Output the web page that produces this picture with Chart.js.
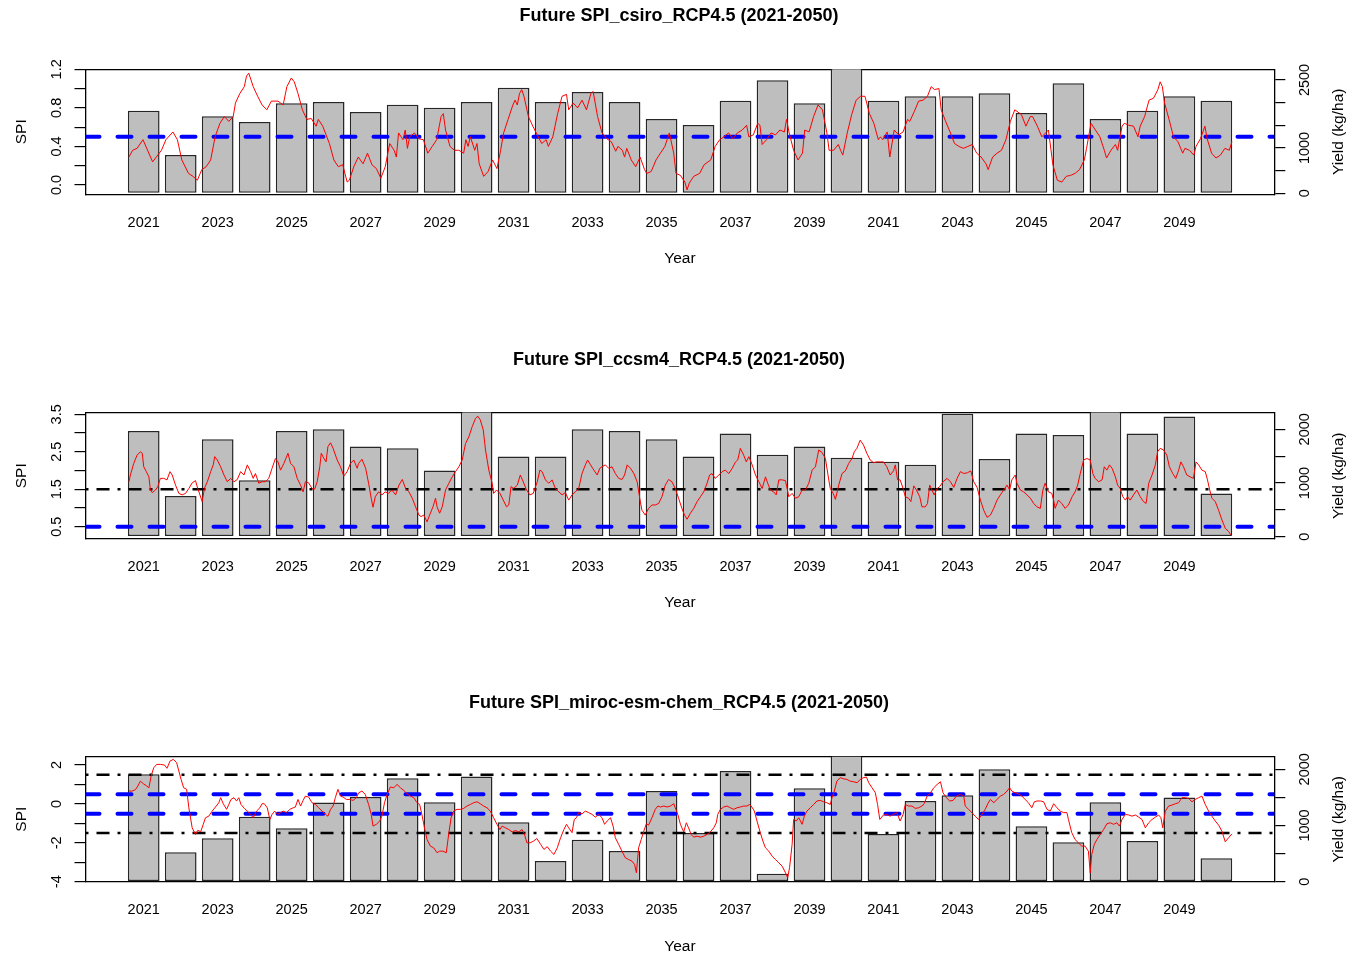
<!DOCTYPE html>
<html>
<head>
<meta charset="utf-8">
<script src="https://cdn.jsdelivr.net/npm/chart.js@4/dist/chart.umd.min.js"></script>
<style>
  html, body { margin: 0; padding: 0; background: #fff; width: 1350px; height: 957px; overflow: hidden; }
  .panel { position: absolute; left: 0; width: 1350px; height: 275px; }
</style>
</head>
<body>
<div class="panel" style="top:0px"><canvas id="csiro" width="1350" height="275"></canvas></div>
<div class="panel" style="top:343px"><canvas id="ccsm4" width="1350" height="275"></canvas></div>
<div class="panel" style="top:687px"><canvas id="miroc" width="1350" height="275"></canvas></div>
<script>
// ---- data ---------------------------------------------------------------
const years = [2021, 2022, 2023, 2024, 2025, 2026, 2027, 2028, 2029, 2030,
               2031, 2032, 2033, 2034, 2035, 2036, 2037, 2038, 2039, 2040,
               2041, 2042, 2043, 2044, 2045, 2046, 2047, 2048, 2049, 2050];
const xTickYears = [2021, 2023, 2025, 2027, 2029, 2031, 2033, 2035, 2037, 2039, 2041, 2043, 2045, 2047, 2049];
const xTickLabels = ['2021', '2023', '2025', '2027', '2029', '2031', '2033', '2035', '2037', '2039', '2041', '2043', '2045', '2047', '2049'];

// yield per year (kg/ha)
const csiroYield = [1824, 846, 1699, 1574, 1985, 2015, 1794, 1956, 1890, 2015,
                    2331, 2015, 2235, 2015, 1640, 1507, 2044, 2493, 1985, 2850,
                    2044, 2140, 2140, 2206, 1772, 2426, 1640, 1824, 2140, 2044];
const ccsmYield = [1969, 757, 1815, 1052, 1969, 2000, 1680, 1649, 1231, 2450,
                   1495, 1495, 2000, 1969, 1815, 1495, 1920, 1526, 1680, 1471,
                   1397, 1342, 2290, 1446, 1920, 1895, 2450, 1920, 2240, 806];
const mirocYield = [1911, 522, 772, 1157, 950, 1407, 1507, 1840, 1413, 1870,
                    1056, 368, 748, 546, 1614, 867, 1970, 142, 1662, 2350,
                    849, 1436, 1537, 2000, 985, 700, 1413, 724, 1496, 415];

// SPI series: [decimal year, SPI]
const csiroSpi = [[2021.10,0.29],[2021.20,0.36],[2021.32,0.38],[2021.48,0.47],[2021.74,0.24],[2021.98,0.36],[2022.10,0.47],[2022.29,0.55],[2022.41,0.47],[2022.53,0.26],[2022.71,0.12],[2022.83,0.09],[2022.95,0.05],[2023.07,0.16],[2023.19,0.19],[2023.31,0.26],[2023.43,0.50],[2023.56,0.64],[2023.68,0.71],[2023.80,0.66],[2023.92,0.71],[2023.98,0.85],[2024.10,0.95],[2024.22,1.02],[2024.28,1.13],[2024.34,1.16],[2024.46,1.02],[2024.58,0.92],[2024.70,0.83],[2024.83,0.78],[2024.95,0.87],[2025.13,0.87],[2025.27,0.83],[2025.37,1.02],[2025.49,1.11],[2025.57,1.07],[2025.67,0.95],[2025.79,0.78],[2025.91,0.68],[2026.03,0.69],[2026.16,0.61],[2026.22,0.68],[2026.34,0.61],[2026.52,0.43],[2026.64,0.26],[2026.76,0.19],[2026.88,0.21],[2027.00,0.03],[2027.06,0.05],[2027.18,0.19],[2027.30,0.29],[2027.43,0.22],[2027.55,0.33],[2027.67,0.21],[2027.79,0.17],[2027.91,0.07],[2028.03,0.19],[2028.15,0.43],[2028.27,0.36],[2028.33,0.29],[2028.39,0.54],[2028.51,0.47],[2028.57,0.57],[2028.63,0.38],[2028.69,0.50],[2028.82,0.54],[2028.94,0.48],[2029.06,0.47],[2029.18,0.33],[2029.30,0.40],[2029.42,0.47],[2029.54,0.71],[2029.60,0.74],[2029.66,0.57],[2029.78,0.40],[2029.90,0.36],[2030.02,0.36],[2030.15,0.33],[2030.21,0.47],[2030.27,0.40],[2030.33,0.50],[2030.45,0.36],[2030.51,0.43],[2030.57,0.22],[2030.69,0.09],[2030.81,0.14],[2030.93,0.26],[2031.05,0.17],[2031.15,0.36],[2031.23,0.54],[2031.35,0.68],[2031.48,0.83],[2031.54,0.88],[2031.60,0.83],[2031.66,0.95],[2031.72,0.99],[2031.78,0.92],[2031.90,0.71],[2032.02,0.61],[2032.14,0.52],[2032.26,0.43],[2032.38,0.47],[2032.44,0.40],[2032.56,0.50],[2032.69,0.74],[2032.81,0.92],[2032.93,0.94],[2032.99,0.78],[2033.11,0.85],[2033.23,0.80],[2033.35,0.88],[2033.47,0.78],[2033.59,0.95],[2033.65,0.97],[2033.77,0.71],[2033.89,0.54],[2034.02,0.48],[2034.14,0.45],[2034.26,0.35],[2034.32,0.40],[2034.44,0.36],[2034.50,0.29],[2034.56,0.38],[2034.68,0.26],[2034.80,0.19],[2034.92,0.29],[2035.04,0.16],[2035.10,0.12],[2035.22,0.14],[2035.35,0.26],[2035.47,0.33],[2035.59,0.40],[2035.71,0.54],[2035.83,0.33],[2035.89,0.12],[2036.01,0.10],[2036.13,0.03],[2036.19,-0.05],[2036.25,0.02],[2036.37,0.09],[2036.53,0.12],[2036.65,0.21],[2036.83,0.26],[2036.95,0.40],[2037.07,0.47],[2037.19,0.50],[2037.31,0.54],[2037.43,0.48],[2037.55,0.54],[2037.68,0.57],[2037.80,0.62],[2037.86,0.50],[2037.98,0.52],[2038.10,0.64],[2038.16,0.62],[2038.22,0.42],[2038.34,0.47],[2038.46,0.54],[2038.58,0.52],[2038.70,0.57],[2038.82,0.55],[2038.88,0.68],[2038.95,0.54],[2039.07,0.36],[2039.19,0.26],[2039.31,0.33],[2039.37,0.57],[2039.49,0.55],[2039.61,0.71],[2039.73,0.83],[2039.85,0.78],[2039.97,0.54],[2040.03,0.36],[2040.15,0.36],[2040.28,0.42],[2040.34,0.36],[2040.40,0.31],[2040.52,0.54],[2040.64,0.73],[2040.76,0.88],[2040.88,0.92],[2041.00,0.92],[2041.12,0.74],[2041.24,0.64],[2041.36,0.47],[2041.42,0.50],[2041.48,0.47],[2041.60,0.55],[2041.67,0.29],[2041.79,0.57],[2041.91,0.52],[2042.03,0.55],[2042.15,0.68],[2042.21,0.66],[2042.33,0.76],[2042.45,0.87],[2042.57,0.88],[2042.69,0.92],[2042.79,1.02],[2042.88,0.99],[2043.00,1.00],[2043.06,0.78],[2043.18,0.66],[2043.30,0.55],[2043.42,0.43],[2043.54,0.40],[2043.66,0.38],[2043.78,0.40],[2043.90,0.42],[2044.02,0.33],[2044.14,0.29],[2044.27,0.22],[2044.33,0.16],[2044.45,0.29],[2044.57,0.33],[2044.69,0.36],[2044.81,0.47],[2044.93,0.66],[2045.05,0.78],[2045.23,0.73],[2045.35,0.61],[2045.47,0.71],[2045.53,0.71],[2045.66,0.61],[2045.78,0.50],[2045.96,0.57],[2046.08,0.21],[2046.20,0.05],[2046.32,0.03],[2046.44,0.09],[2046.56,0.10],[2046.68,0.12],[2046.80,0.16],[2046.93,0.26],[2046.99,0.38],[2047.11,0.64],[2047.23,0.57],[2047.35,0.50],[2047.47,0.36],[2047.53,0.28],[2047.65,0.36],[2047.77,0.42],[2047.83,0.36],[2047.95,0.61],[2048.01,0.64],[2048.13,0.62],[2048.26,0.61],[2048.38,0.50],[2048.44,0.61],[2048.56,0.71],[2048.68,0.88],[2048.80,0.90],[2048.92,0.99],[2048.98,1.07],[2049.04,1.02],[2049.10,0.85],[2049.22,0.68],[2049.34,0.50],[2049.46,0.45],[2049.59,0.33],[2049.65,0.38],[2049.77,0.36],[2049.89,0.31],[2049.95,0.40],[2050.07,0.48],[2050.19,0.61],[2050.25,0.48],[2050.37,0.33],[2050.49,0.28],[2050.61,0.31],[2050.73,0.38],[2050.85,0.36],[2050.92,0.45]];

const ccsmSpi = [[2021.10,1.70],[2021.14,1.88],[2021.23,2.19],[2021.32,2.41],[2021.41,2.50],[2021.46,2.46],[2021.50,2.10],[2021.57,1.97],[2021.64,1.83],[2021.68,1.48],[2021.73,1.41],[2021.82,1.48],[2021.88,1.57],[2021.95,1.79],[2022.04,1.79],[2022.13,1.75],[2022.21,1.97],[2022.27,1.88],[2022.36,1.61],[2022.45,1.39],[2022.54,1.35],[2022.63,1.39],[2022.72,1.52],[2022.81,1.67],[2022.90,1.73],[2022.96,1.52],[2023.02,1.35],[2023.08,1.17],[2023.14,1.52],[2023.22,1.70],[2023.31,1.97],[2023.38,2.15],[2023.42,2.37],[2023.49,2.28],[2023.58,2.10],[2023.67,1.88],[2023.76,1.70],[2023.85,1.79],[2023.94,1.70],[2024.03,1.76],[2024.12,1.97],[2024.21,1.88],[2024.30,2.15],[2024.39,1.97],[2024.46,1.79],[2024.52,1.92],[2024.61,1.66],[2024.70,1.70],[2024.79,1.70],[2024.88,1.79],[2024.97,2.06],[2025.06,2.32],[2025.13,2.23],[2025.20,2.01],[2025.29,2.19],[2025.40,2.46],[2025.47,2.19],[2025.56,2.10],[2025.65,1.79],[2025.74,1.61],[2025.81,1.43],[2025.87,1.70],[2025.96,1.67],[2026.05,1.52],[2026.12,1.50],[2026.19,1.70],[2026.26,2.10],[2026.30,2.46],[2026.37,2.32],[2026.43,2.23],[2026.48,2.64],[2026.55,2.74],[2026.62,2.59],[2026.73,2.28],[2026.82,2.10],[2026.91,1.85],[2027.00,1.97],[2027.09,2.19],[2027.18,2.28],[2027.27,2.06],[2027.31,2.19],[2027.40,2.30],[2027.50,2.06],[2027.58,1.66],[2027.65,1.26],[2027.70,1.02],[2027.76,1.30],[2027.85,1.43],[2027.94,1.35],[2028.03,1.43],[2028.12,1.39],[2028.21,1.48],[2028.31,1.35],[2028.40,1.61],[2028.49,1.76],[2028.58,1.52],[2028.67,1.43],[2028.76,1.26],[2028.85,1.03],[2028.94,0.81],[2029.00,0.77],[2029.07,0.81],[2029.16,0.63],[2029.23,0.81],[2029.32,1.03],[2029.39,1.26],[2029.43,1.03],[2029.50,0.86],[2029.57,1.03],[2029.66,1.48],[2029.75,1.66],[2029.84,1.83],[2029.93,1.97],[2030.02,2.10],[2030.11,2.28],[2030.20,2.72],[2030.29,2.90],[2030.38,3.17],[2030.47,3.39],[2030.53,3.45],[2030.60,3.35],[2030.68,3.08],[2030.74,2.55],[2030.83,2.01],[2030.92,1.66],[2030.96,1.39],[2031.04,1.48],[2031.13,1.39],[2031.22,1.21],[2031.31,1.03],[2031.37,1.08],[2031.43,1.57],[2031.50,1.52],[2031.60,1.61],[2031.68,1.88],[2031.76,1.70],[2031.85,1.48],[2031.94,1.35],[2032.03,1.39],[2032.14,1.70],[2032.21,2.01],[2032.27,1.97],[2032.36,1.75],[2032.45,1.66],[2032.54,1.75],[2032.63,1.52],[2032.72,1.43],[2032.81,1.35],[2032.90,1.41],[2032.99,1.21],[2033.08,1.35],[2033.17,1.43],[2033.26,1.52],[2033.35,1.92],[2033.44,2.15],[2033.50,2.28],[2033.58,2.15],[2033.67,2.01],[2033.76,1.88],[2033.83,2.06],[2033.89,2.10],[2033.98,2.15],[2034.07,2.06],[2034.16,2.10],[2034.25,1.92],[2034.34,1.79],[2034.43,1.76],[2034.50,1.88],[2034.57,2.15],[2034.66,2.06],[2034.75,1.92],[2034.84,1.70],[2034.91,1.26],[2034.97,0.94],[2035.06,0.81],[2035.15,0.99],[2035.24,1.08],[2035.33,1.08],[2035.42,1.12],[2035.51,1.30],[2035.60,1.61],[2035.69,1.76],[2035.78,1.70],[2035.87,1.52],[2035.96,1.26],[2036.05,0.99],[2036.12,0.81],[2036.19,0.70],[2036.28,0.86],[2036.37,0.99],[2036.46,1.17],[2036.55,1.30],[2036.64,1.43],[2036.73,1.66],[2036.80,1.88],[2036.86,1.92],[2036.95,1.79],[2037.05,1.88],[2037.14,1.97],[2037.22,2.01],[2037.32,1.92],[2037.41,2.06],[2037.50,2.23],[2037.56,2.28],[2037.63,2.59],[2037.72,2.41],[2037.79,2.23],[2037.86,2.37],[2037.95,2.15],[2038.04,1.88],[2038.13,1.70],[2038.22,1.52],[2038.31,1.83],[2038.37,1.66],[2038.44,1.48],[2038.53,1.43],[2038.60,1.35],[2038.67,1.75],[2038.76,1.75],[2038.85,1.73],[2038.94,1.30],[2039.03,1.39],[2039.12,1.26],[2039.21,1.30],[2039.30,1.48],[2039.39,1.48],[2039.48,1.66],[2039.57,2.01],[2039.66,2.10],[2039.75,2.55],[2039.84,2.48],[2039.93,2.32],[2040.00,1.88],[2040.06,1.52],[2040.14,1.39],[2040.20,1.23],[2040.29,1.61],[2040.38,1.92],[2040.47,1.99],[2040.56,2.19],[2040.65,2.32],[2040.71,2.50],[2040.78,2.59],[2040.87,2.81],[2040.96,2.68],[2041.05,2.46],[2041.14,2.28],[2041.23,2.21],[2041.32,2.23],[2041.41,2.23],[2041.50,2.23],[2041.59,2.10],[2041.68,1.88],[2041.77,1.99],[2041.82,2.15],[2041.88,1.75],[2041.95,1.75],[2042.03,1.52],[2042.09,1.30],[2042.18,1.26],[2042.24,1.17],[2042.32,1.59],[2042.39,1.48],[2042.48,1.30],[2042.54,1.03],[2042.63,1.03],[2042.69,1.12],[2042.75,1.61],[2042.81,1.48],[2042.87,1.35],[2042.95,1.52],[2043.02,1.57],[2043.11,1.70],[2043.22,1.79],[2043.31,1.70],[2043.40,1.55],[2043.49,1.79],[2043.58,1.97],[2043.67,1.92],[2043.77,1.94],[2043.86,1.99],[2043.94,1.70],[2044.03,1.55],[2044.12,1.21],[2044.21,0.94],[2044.30,0.75],[2044.39,0.81],[2044.48,0.99],[2044.57,1.21],[2044.66,1.35],[2044.75,1.48],[2044.84,1.61],[2044.91,1.48],[2044.97,1.75],[2045.06,1.88],[2045.11,1.66],[2045.20,1.48],[2045.29,1.43],[2045.38,1.35],[2045.47,1.26],[2045.56,1.12],[2045.65,1.03],[2045.74,0.99],[2045.81,1.48],[2045.87,1.66],[2045.96,1.43],[2046.05,1.39],[2046.10,1.21],[2046.14,0.99],[2046.23,1.21],[2046.32,1.12],[2046.41,0.99],[2046.50,1.08],[2046.60,1.30],[2046.68,1.43],[2046.75,1.61],[2046.82,1.92],[2046.91,2.28],[2047.00,2.32],[2047.09,2.28],[2047.16,1.92],[2047.22,1.79],[2047.32,1.70],[2047.41,1.75],[2047.47,2.10],[2047.54,2.01],[2047.61,2.15],[2047.68,2.06],[2047.77,1.83],[2047.83,1.61],[2047.90,1.52],[2047.97,1.30],[2048.04,1.21],[2048.10,1.30],[2048.17,1.21],[2048.26,1.35],[2048.35,1.48],[2048.44,1.30],[2048.53,1.17],[2048.60,1.12],[2048.67,1.66],[2048.76,1.88],[2048.85,2.15],[2048.91,2.50],[2048.98,2.59],[2049.07,2.55],[2049.16,2.41],[2049.23,2.10],[2049.32,1.92],[2049.40,1.79],[2049.48,2.01],[2049.54,2.23],[2049.61,2.10],[2049.70,1.88],[2049.79,1.83],[2049.88,1.79],[2049.95,2.23],[2050.02,2.15],[2050.11,2.01],[2050.20,1.97],[2050.26,1.75],[2050.32,1.48],[2050.38,1.26],[2050.47,1.17],[2050.56,0.94],[2050.65,0.68],[2050.74,0.46],[2050.83,0.37],[2050.92,0.25]];

const mirocSpi = [[2021.10,0.66],[2021.19,0.66],[2021.28,0.74],[2021.34,0.92],[2021.41,1.17],[2021.49,1.04],[2021.58,0.92],[2021.64,0.83],[2021.70,1.43],[2021.77,1.86],[2021.85,2.03],[2021.95,2.03],[2022.06,2.00],[2022.13,1.83],[2022.21,2.20],[2022.30,2.29],[2022.39,2.12],[2022.45,1.69],[2022.51,1.26],[2022.58,0.83],[2022.66,0.75],[2022.72,-0.20],[2022.81,-1.23],[2022.90,-1.57],[2022.96,-1.36],[2023.04,-1.43],[2023.11,-1.05],[2023.17,-0.71],[2023.26,-0.63],[2023.35,-0.37],[2023.44,-0.16],[2023.53,0.06],[2023.58,0.32],[2023.65,0.01],[2023.74,-0.28],[2023.80,-0.03],[2023.86,0.23],[2023.94,0.32],[2024.01,0.15],[2024.07,0.32],[2024.13,-0.03],[2024.22,-0.23],[2024.30,-0.37],[2024.39,-0.54],[2024.46,-0.71],[2024.55,-0.37],[2024.64,-0.20],[2024.70,0.01],[2024.76,0.01],[2024.84,-0.20],[2024.91,-0.80],[2024.97,-0.54],[2025.04,-0.37],[2025.12,-0.54],[2025.20,-0.45],[2025.27,-0.37],[2025.36,-0.45],[2025.45,-0.28],[2025.54,-0.20],[2025.60,-0.16],[2025.67,0.23],[2025.74,-0.11],[2025.81,0.18],[2025.87,0.40],[2025.96,0.35],[2026.05,0.06],[2026.14,-0.03],[2026.23,-0.20],[2026.32,-0.37],[2026.41,-0.54],[2026.48,-0.63],[2026.55,-0.28],[2026.62,-0.11],[2026.68,0.32],[2026.75,0.75],[2026.82,0.40],[2026.89,0.35],[2026.98,0.23],[2027.07,0.23],[2027.16,0.18],[2027.25,0.32],[2027.31,0.57],[2027.40,0.66],[2027.49,0.49],[2027.58,-0.03],[2027.65,-0.54],[2027.70,-1.14],[2027.79,-1.05],[2027.88,-0.88],[2027.94,-0.63],[2028.01,0.06],[2028.08,0.49],[2028.17,0.87],[2028.26,0.83],[2028.35,1.00],[2028.44,0.83],[2028.53,0.69],[2028.62,0.52],[2028.71,0.40],[2028.80,0.32],[2028.89,0.06],[2028.96,-0.03],[2029.03,-0.63],[2029.09,-1.23],[2029.16,-1.83],[2029.25,-2.17],[2029.34,-2.26],[2029.43,-2.51],[2029.50,-2.43],[2029.59,-2.43],[2029.68,-2.51],[2029.75,-1.48],[2029.81,-0.71],[2029.88,-0.37],[2029.97,-0.28],[2030.06,-0.28],[2030.15,-0.23],[2030.24,-0.11],[2030.33,-0.03],[2030.42,0.06],[2030.51,0.11],[2030.60,0.01],[2030.69,-0.11],[2030.78,-0.20],[2030.87,-0.37],[2030.96,-0.71],[2031.05,-1.05],[2031.13,-1.32],[2031.19,-1.14],[2031.28,-1.23],[2031.37,-1.32],[2031.46,-1.44],[2031.55,-1.37],[2031.64,-1.44],[2031.73,-1.32],[2031.79,-1.54],[2031.86,-2.00],[2031.95,-2.00],[2032.04,-1.91],[2032.13,-1.78],[2032.23,-2.08],[2032.32,-2.34],[2032.41,-2.20],[2032.50,-2.43],[2032.59,-2.60],[2032.68,-2.26],[2032.77,-1.74],[2032.86,-1.32],[2032.93,-1.05],[2032.99,-1.23],[2033.08,-1.48],[2033.14,-0.80],[2033.20,-0.71],[2033.26,-0.45],[2033.35,-0.51],[2033.44,-0.37],[2033.53,-0.45],[2033.62,-0.54],[2033.71,-0.68],[2033.80,-0.54],[2033.89,-0.71],[2033.96,-1.05],[2034.03,-0.88],[2034.12,-0.71],[2034.19,-1.14],[2034.25,-1.74],[2034.34,-2.08],[2034.43,-2.43],[2034.52,-2.77],[2034.61,-2.86],[2034.70,-2.94],[2034.77,-3.11],[2034.82,-3.54],[2034.88,-2.26],[2034.95,-1.83],[2035.02,-1.40],[2035.09,-1.02],[2035.15,-1.09],[2035.24,-0.71],[2035.33,-0.28],[2035.40,-0.11],[2035.47,-0.16],[2035.56,-0.11],[2035.65,-0.16],[2035.74,-0.11],[2035.83,0.01],[2035.87,-0.20],[2035.94,-0.54],[2036.01,-1.05],[2036.10,-1.44],[2036.17,-0.97],[2036.23,-1.23],[2036.30,-1.57],[2036.37,-1.71],[2036.46,-1.66],[2036.55,-1.71],[2036.64,-1.66],[2036.73,-1.57],[2036.82,-1.44],[2036.91,-1.23],[2036.98,-0.97],[2037.02,-0.54],[2037.09,-0.28],[2037.18,-0.16],[2037.27,-0.11],[2037.36,-0.20],[2037.45,-0.28],[2037.54,-0.20],[2037.63,-0.16],[2037.72,-0.11],[2037.81,-0.11],[2037.88,-0.03],[2037.94,-0.16],[2038.01,-0.37],[2038.08,-0.88],[2038.17,-1.48],[2038.24,-1.91],[2038.31,-2.26],[2038.40,-2.43],[2038.49,-2.69],[2038.58,-2.86],[2038.67,-3.03],[2038.76,-3.20],[2038.85,-3.54],[2038.91,-3.80],[2038.96,-3.28],[2039.03,-2.08],[2039.07,-0.80],[2039.14,-0.88],[2039.21,-0.71],[2039.30,-1.05],[2039.36,-0.63],[2039.43,-0.37],[2039.52,-0.20],[2039.61,-0.03],[2039.70,0.15],[2039.79,0.18],[2039.88,0.11],[2039.97,0.06],[2040.06,-0.03],[2040.11,0.32],[2040.17,0.66],[2040.24,1.17],[2040.33,1.35],[2040.42,1.29],[2040.51,1.26],[2040.60,1.17],[2040.69,1.14],[2040.79,1.09],[2040.87,1.26],[2040.96,1.35],[2041.04,1.38],[2041.10,1.09],[2041.19,0.83],[2041.28,0.57],[2041.34,-0.03],[2041.40,-0.80],[2041.50,-0.57],[2041.59,-0.54],[2041.68,-0.63],[2041.77,-0.54],[2041.86,-0.45],[2041.95,-0.88],[2042.03,-0.54],[2042.09,-0.03],[2042.18,-0.11],[2042.27,-0.11],[2042.36,-0.23],[2042.45,-0.20],[2042.54,-0.11],[2042.60,0.01],[2042.68,0.40],[2042.77,0.57],[2042.86,0.83],[2042.95,1.00],[2043.04,1.14],[2043.11,0.57],[2043.20,0.32],[2043.29,0.15],[2043.38,0.18],[2043.47,0.40],[2043.58,0.49],[2043.67,0.40],[2043.71,-0.11],[2043.80,-0.28],[2043.89,-0.45],[2043.98,-0.63],[2044.07,-0.80],[2044.16,-0.54],[2044.25,-0.28],[2044.32,0.01],[2044.39,0.23],[2044.48,0.06],[2044.57,0.23],[2044.66,0.40],[2044.75,0.49],[2044.84,0.66],[2044.91,0.83],[2044.97,0.66],[2045.06,0.57],[2045.15,0.52],[2045.24,0.40],[2045.33,0.23],[2045.42,0.06],[2045.51,-0.20],[2045.58,0.11],[2045.65,0.15],[2045.74,0.15],[2045.83,0.11],[2045.92,-0.28],[2046.01,-0.37],[2046.10,0.01],[2046.19,-0.20],[2046.28,-0.37],[2046.37,-0.45],[2046.46,-0.45],[2046.50,-0.80],[2046.59,-1.48],[2046.68,-1.83],[2046.77,-2.00],[2046.86,-2.17],[2046.95,-2.17],[2047.04,-2.43],[2047.09,-3.54],[2047.13,-2.60],[2047.20,-2.08],[2047.27,-1.83],[2047.36,-1.57],[2047.45,-1.32],[2047.54,-1.02],[2047.63,-0.97],[2047.72,-1.05],[2047.81,-0.97],[2047.88,-1.14],[2047.95,-0.80],[2048.04,-0.54],[2048.13,-0.57],[2048.22,-0.63],[2048.31,-0.57],[2048.40,-0.68],[2048.49,-0.80],[2048.58,-1.23],[2048.67,-0.97],[2048.76,-0.80],[2048.85,-0.68],[2048.94,-0.57],[2049.00,-0.71],[2049.05,-1.23],[2049.12,-0.37],[2049.21,-0.11],[2049.30,-0.06],[2049.39,0.01],[2049.48,0.06],[2049.57,0.32],[2049.66,0.32],[2049.75,0.28],[2049.84,0.11],[2049.93,0.23],[2050.02,0.32],[2050.11,0.40],[2050.20,-0.03],[2050.29,-0.37],[2050.38,-0.63],[2050.47,-0.88],[2050.56,-1.09],[2050.65,-1.40],[2050.74,-1.95],[2050.83,-1.74],[2050.92,-1.54]];

// axis ticks and labels
const csiroSpiTicks = [0, 0.2, 0.4, 0.6, 0.8, 1.0, 1.2];
const csiroSpiTickLabels = ['0.0', '', '0.4', '', '0.8', '', '1.2'];
const ccsmSpiTicks = [0.5, 1.0, 1.5, 2.0, 2.5, 3.0, 3.5];
const ccsmSpiTickLabels = ['0.5', '', '1.5', '', '2.5', '', '3.5'];
const mirocSpiTicks = [-4, -3, -2, -1, 0, 1, 2];
const mirocSpiTickLabels = ['-4', '', '-2', '', '0', '', '2'];
const csiroYieldTicks = [0, 500, 1000, 1500, 2000, 2500];
const csiroYieldTickLabels = ['0', '', '1000', '', '', '2500'];
const yieldTicks = [0, 500, 1000, 1500, 2000];
const yieldTickLabels = ['0', '', '1000', '', '2000'];

// SPI threshold levels
const csiroBlueLevels = [0.5];
const csiroBlackLevels = [];
const ccsmBlueLevels = [0.5];
const ccsmBlackLevels = [1.5];
const mirocBlueLevels = [-0.5, 0.5];
const mirocBlackLevels = [-1.5, 1.5];

// ---- drawing ------------------------------------------------------------
const FONT = "'Liberation Sans', Arial, Helvetica, sans-serif";
const TICK_SIZE = 14.5;
const AXIS_TITLE_SIZE = 15.5;
const MAIN_TITLE_SIZE = 18;
const X_MIN = 2019.926, X_MAX = 2052.066;
const BOX_LEFT = 85.5, BOX_RIGHT = 1274.3, PAD_LEFT = 8;
const LEFT_LABEL_X = 56.7, RIGHT_LABEL_X = 1304.5;
const TICK_LEN = 11;

const measureCtx = document.createElement('canvas').getContext('2d');
function widest(labels) {
  measureCtx.font = TICK_SIZE + 'px ' + FONT;
  return Math.max(...labels.map(s => measureCtx.measureText(s).width));
}

// title for the right-hand axis, read bottom to top
const rightTitle = {
  id: 'rightTitle',
  afterDraw(chart, args, opts) {
    const s = chart.scales.yYield;
    const ctx = chart.ctx;
    ctx.save();
    ctx.font = AXIS_TITLE_SIZE + 'px ' + FONT;
    ctx.fillStyle = '#000';
    ctx.textAlign = 'center';
    ctx.textBaseline = 'middle';
    ctx.translate(opts.x, (s.top + s.bottom) / 2);
    ctx.rotate(-Math.PI / 2);
    ctx.fillText(opts.text, 0, 0);
    ctx.restore();
  }
};

function levelLine(v, color, width, dash, cap) {
  return {
    type: 'line',
    data: [{x: X_MIN, y: v}, {x: X_MAX, y: v}],
    xAxisID: 'x', yAxisID: 'ySpi',
    borderColor: color, borderWidth: width, borderDash: dash, borderCapStyle: cap,
    pointRadius: 0, order: 1
  };
}

function panel(id, p) {
  const canvas = document.getElementById(id);
  const H = canvas.height;
  const tickFont = {family: FONT, size: TICK_SIZE};
  const titleFont = {family: FONT, size: AXIS_TITLE_SIZE};
  const tickLH = TICK_SIZE * 1.2, axisLH = AXIS_TITLE_SIZE * 1.2, mainLH = MAIN_TITLE_SIZE * 1.2;

  const datasets = [
    {
      type: 'line',
      data: p.spi.map(([t, v]) => ({x: t, y: v})),
      xAxisID: 'x', yAxisID: 'ySpi',
      borderColor: '#ff0000', borderWidth: 1, pointRadius: 0, tension: 0, order: 0
    },
    ...p.blue.map(v => levelLine(v, '#0000ff', 4, [14, 18], 'round')),
    ...p.black.map(v => levelLine(v, '#000000', 2.5, [3, 8, 13, 8], 'butt')),
    {
      type: 'bar',
      data: years.map((y, i) => ({x: y + 0.5, y: p.yields[i]})),
      xAxisID: 'x', yAxisID: 'yYield',
      backgroundColor: '#bebebe', borderColor: '#262626', borderWidth: 1.5,
      borderSkipped: false, barPercentage: 0.857, categoryPercentage: 1, order: 2
    }
  ];

  const border = {display: true, color: '#000', width: 1.3};
  const leftPad = BOX_LEFT - TICK_LEN - widest(p.spiTickLabels) / 2 - LEFT_LABEL_X;
  const rightPad = RIGHT_LABEL_X - BOX_RIGHT - TICK_LEN - widest(p.yieldTickLabels) / 2;

  new Chart(canvas, {
    type: 'bar',
    data: {datasets},
    plugins: [rightTitle],
    options: {
      responsive: false,
      animation: false,
      devicePixelRatio: 1,
      layout: {padding: {left: PAD_LEFT, right: 0, top: 0, bottom: 0}},
      plugins: {
        legend: {display: false},
        tooltip: {enabled: false},
        title: {
          display: true, text: p.title, color: '#000',
          font: {family: FONT, size: MAIN_TITLE_SIZE, weight: 'bold'},
          padding: {top: p.titleY - mainLH / 2, bottom: p.boxTop - p.titleY - mainLH / 2}
        },
        rightTitle: {text: 'Yield (kg/ha)', x: 1338.3}
      },
      scales: {
        x: {
          type: 'linear', position: 'bottom', min: X_MIN, max: X_MAX, offset: false, z: 1,
          afterBuildTicks: s => { s.ticks = xTickYears.map(y => ({value: y + 0.5})); },
          afterFit: s => { s.height = H - p.boxBottom; },
          ticks: {
            autoSkip: false, maxRotation: 0, minRotation: 0, color: '#000', font: tickFont,
            padding: p.tickY - p.boxBottom - tickLH / 2,
            callback: (v, i) => xTickLabels[i]
          },
          grid: {display: false, drawTicks: false},
          border,
          title: {display: true, text: 'Year', color: '#000', font: titleFont,
                  padding: {top: 0, bottom: H - p.yearY - axisLH / 2}}
        },
        xTop: {
          type: 'linear', position: 'top', min: X_MIN, max: X_MAX, offset: false, z: 1,
          afterFit: s => { s.height = 0; },
          ticks: {display: false},
          grid: {display: false, drawTicks: false},
          border
        },
        ySpi: {
          type: 'linear', position: 'left', min: p.spiMin, max: p.spiMax, z: 1,
          afterBuildTicks: s => { s.ticks = p.spiTicks.map(v => ({value: v})); },
          afterFit: s => { s.width = BOX_LEFT - PAD_LEFT; },
          ticks: {
            autoSkip: false, minRotation: 90, maxRotation: 90, crossAlign: 'center',
            color: '#000', font: tickFont, padding: leftPad,
            callback: (v, i) => p.spiTickLabels[i]
          },
          grid: {display: true, drawOnChartArea: false, drawTicks: true, tickLength: TICK_LEN,
                 color: '#000', lineWidth: 1.2},
          border,
          title: {display: true, text: 'SPI', color: '#000', font: titleFont,
                  padding: {top: 21.7 - PAD_LEFT - axisLH / 2, bottom: 0}}
        },
        yYield: {
          type: 'linear', position: 'right', min: p.yieldMin, max: p.yieldMax, z: 1,
          afterBuildTicks: s => { s.ticks = p.yieldTicks.map(v => ({value: v})); },
          afterFit: s => { s.width = 1350 - BOX_RIGHT; },
          ticks: {
            autoSkip: false, minRotation: 90, maxRotation: 90, crossAlign: 'center',
            color: '#000', font: tickFont, padding: rightPad,
            callback: (v, i) => p.yieldTickLabels[i]
          },
          grid: {display: true, drawOnChartArea: false, drawTicks: true, tickLength: TICK_LEN,
                 color: '#000', lineWidth: 1.2},
          border
        }
      }
    }
  });
}

panel('csiro', {
  title: 'Future SPI_csiro_RCP4.5 (2021-2050)',
  titleY: 16, boxTop: 69.3, boxBottom: 194.3, tickY: 223, yearY: 258.5,
  yields: csiroYield, spi: csiroSpi,
  spiMin: -0.0965, spiMax: 1.2, yieldMin: -22, yieldMax: 2736,
  spiTicks: csiroSpiTicks, spiTickLabels: csiroSpiTickLabels,
  yieldTicks: csiroYieldTicks, yieldTickLabels: csiroYieldTickLabels,
  blue: csiroBlueLevels, black: csiroBlackLevels
});
panel('ccsm4', {
  title: 'Future SPI_ccsm4_RCP4.5 (2021-2050)',
  titleY: 17, boxTop: 69.5, boxBottom: 196, tickY: 224, yearY: 260,
  yields: ccsmYield, spi: ccsmSpi,
  spiMin: 0.172, spiMax: 3.548, yieldMin: -43, yieldMax: 2313,
  spiTicks: ccsmSpiTicks, spiTickLabels: ccsmSpiTickLabels,
  yieldTicks: yieldTicks, yieldTickLabels: yieldTickLabels,
  blue: ccsmBlueLevels, black: ccsmBlackLevels
});
panel('miroc', {
  title: 'Future SPI_miroc-esm-chem_RCP4.5 (2021-2050)',
  titleY: 16, boxTop: 69.7, boxBottom: 194.7, tickY: 223, yearY: 260,
  yields: mirocYield, spi: mirocSpi,
  spiMin: -4.0, spiMax: 2.427, yieldMin: 0, yieldMax: 2224,
  spiTicks: mirocSpiTicks, spiTickLabels: mirocSpiTickLabels,
  yieldTicks: yieldTicks, yieldTickLabels: yieldTickLabels,
  blue: mirocBlueLevels, black: mirocBlackLevels
});
</script>
</body>
</html>
